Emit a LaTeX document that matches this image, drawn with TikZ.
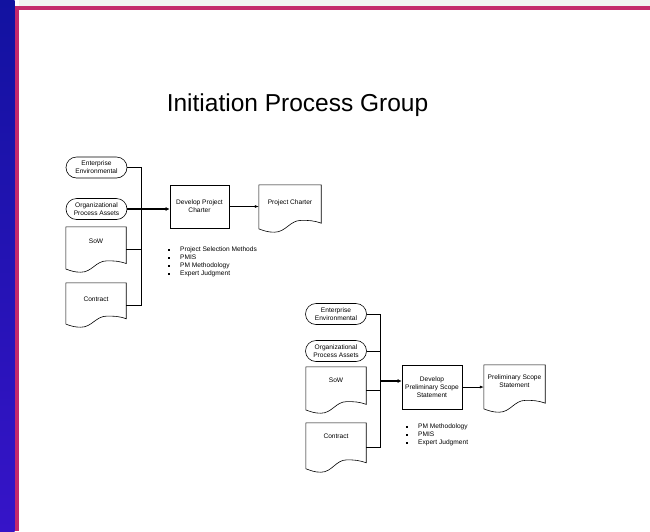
\documentclass[tikz,border=0pt]{standalone}
\usepackage{fontspec}
\setmainfont{Liberation Sans}
\usetikzlibrary{shapes.misc,arrows.meta,calc}

\definecolor{bartop}{HTML}{1212A0}
\definecolor{barbottom}{HTML}{3614C8}
\definecolor{barpink}{HTML}{C42A6C}
\definecolor{stripgray}{HTML}{F2F2F2}

% small square bullet in front of a tool
\newcommand{\blt}{\rule[0.7pt]{2pt}{2pt}\hspace{10pt}}
% outline of a document symbol round a named node
\newcommand{\docline}[1]{%
	\draw[flow] let \p1=(#1.south west), \p2=(#1.north east), \n1={\x2-\x1}, \n2={\y2-\y1} in
		(\x1,\y1+0.07*\n2) -- (\x1,\y2) -- (\x2,\y2) -- (\x2,\y1+0.19*\n2)
		to[out=160,in=0] (\x1+0.68*\n1,\y1+0.25*\n2)
		to[out=180,in=0] (\x1+0.25*\n1,\y1)
		to[out=180,in=-20] cycle;}

\begin{document}
\begin{tikzpicture}[x=1pt,y=-1pt,
		every node/.style={font=\fontsize{6.6}{8}\selectfont,inner sep=0pt},
		term/.style={draw,rounded rectangle,minimum width=61pt,minimum height=21pt,align=center,line width=0.6pt},
		procbox/.style={draw,rectangle,minimum width=59pt,minimum height=43pt,align=center,line width=0.6pt},
		docshape/.style={rectangle,minimum width=60pt,minimum height=45pt},
		doctext/.style={align=center},
		flow/.style={line width=0.6pt},
		flowarrow/.style={flow,-{Latex[length=4pt,width=3pt]}},
		bigarrow/.style={line width=1.5pt,-{Latex[length=4pt,width=4pt]}},
		bullets/.style={align=left,anchor=north west}]
	\useasboundingbox (0,0) rectangle (650,531);
	% slide frame
	\shade[top color=bartop,bottom color=barbottom] (0,0) rectangle (14.5,531);
	\fill[stripgray] (18.5,0) rectangle (650,6);
	\fill[barpink] (14.5,6) rectangle (650,9.5);
	\fill[barpink] (14.5,6) rectangle (18.5,531);

	\node[font=\fontsize{24.5}{29}\selectfont,anchor=base] (title) at (297.5,111) {Initiation Process Group};

	% first process: project charter
	\node[term] (ent1) at (96.5,167.5) {Enterprise\\Environmental};
	\node[term] (opa1) at (96.5,209) {Organizational\\Process Assets};
	\node[docshape] (sow1) at (96,249.5) {};
	\node[doctext] (sowtxt1) at ([yshift=-14pt]sow1.north) {SoW};
	\node[docshape,minimum height=44pt] (con1) at (96,305) {};
	\node[doctext] (contxt1) at ([yshift=-16pt]con1.north) {Contract};
	\node[procbox] (dev1) at (199.5,206.5) {Develop Project\\Charter};
	\node[docshape,minimum width=62pt,minimum height=47pt] (pc1) at (290,208.5) {};
	\node[doctext] (pctxt1) at ([yshift=-18pt]pc1.north) {Project Charter};
	\node[bullets] (tools1) at (168,246.5) {\blt Project Selection Methods\\\blt PMIS\\\blt PM Methodology\\\blt Expert Judgment};
	\docline{sow1}
	\docline{con1}
	\docline{pc1}
	\coordinate (bus1) at (141,0);
	\draw[flow] (ent1.east) -- (ent1.east -| bus1) -- (con1.east -| bus1) -- (con1.east);
	\draw[flow] (sow1.east) -- (sow1.east -| bus1);
	\draw[bigarrow] (opa1.east) -- (opa1.east -| dev1.west);
	\draw[flowarrow] (dev1.east) -- (dev1.east -| pc1.west);

	% second process: preliminary scope statement
	\node[term] (ent2) at (336,314) {Enterprise\\Environmental};
	\node[term] (opa2) at (336,351) {Organizational\\Process Assets};
	\node[docshape,minimum height=46pt] (sow2) at (336,390) {};
	\node[doctext] (sowtxt2) at ([yshift=-13pt]sow2.north) {SoW};
	\node[docshape,minimum height=49pt] (con2) at (336,447.5) {};
	\node[doctext] (contxt2) at ([yshift=-13pt]con2.north) {Contract};
	\node[procbox,minimum width=60pt,minimum height=44pt] (dev2) at (432,387) {Develop\\Preliminary Scope\\Statement};
	\node[docshape,minimum width=61pt,minimum height=47pt] (pss2) at (514.5,388.5) {};
	\node[doctext] (psstxt2) at ([yshift=-16pt]pss2.north) {Preliminary Scope\\Statement};
	\node[bullets] (tools2) at (406,423.5) {\blt PM Methodology\\\blt PMIS\\\blt Expert Judgment};
	\docline{sow2}
	\docline{con2}
	\docline{pss2}
	\coordinate (bus2) at (380,381);
	\draw[flow] (ent2.east) -- (ent2.east -| bus2) -- (con2.east -| bus2) -- (con2.east);
	\draw[flow] (opa2.east) -- (opa2.east -| bus2);
	\draw[flow] (sow2.east) -- (sow2.east -| bus2);
	\draw[bigarrow] (bus2) -- (bus2 -| dev2.west);
	\draw[flowarrow] (dev2.east) -- (dev2.east -| pss2.west);
\end{tikzpicture}
\end{document}
